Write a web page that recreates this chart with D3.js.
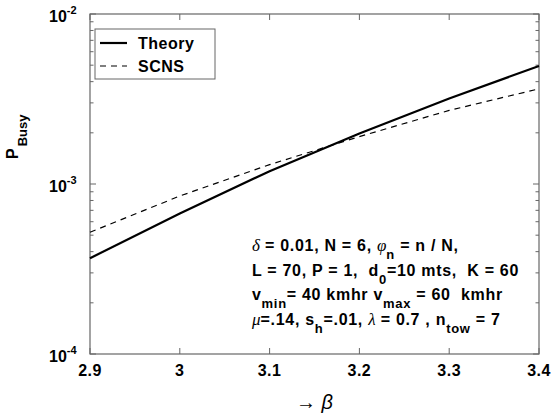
<!DOCTYPE html>
<html>
<head>
<meta charset="utf-8">
<script src="https://cdn.jsdelivr.net/npm/d3@7"></script>
<style>
  body { margin: 0; background: #fff; }
  svg { display: block; }
  text { font-family: "Liberation Sans", Arial, Helvetica, sans-serif; white-space: pre; }
</style>
</head>
<body>
<svg id="chart" width="552" height="416"></svg>
<script>
// values
const beta = [2.9, 3.0, 3.1, 3.2, 3.3, 3.4];
const theory = [3.66e-4, 6.7e-4, 1.19e-3, 1.98e-3, 3.18e-3, 4.95e-3];
const scns = [5.2e-4, 8.5e-4, 1.30e-3, 1.9e-3, 2.71e-3, 3.63e-3];
const xTicks = [2.9, 3.0, 3.1, 3.2, 3.3, 3.4];
const xTickLabels = ['2.9', '3', '3.1', '3.2', '3.3', '3.4'];
const yTicks = [1e-4, 1e-3, 1e-2];
const yTickExp = ['-4', '-3', '-2'];
const legendNames = ['Theory', 'SCNS'];

// annotation text, s = symbol (serif italic), b = subscript
const notes = [
  [['δ', 's'], [' = 0.01, N = 6, '], ['φ', 's'], ['n', 'b'], [' = n / N,']],
  [['L = 70, P = 1,  d'], ['0', 'b'], ['=10 mts,  K = 60']],
  [['v'], ['min', 'b'], ['= 40 kmhr v'], ['max', 'b'], [' = 60  kmhr']],
  [['μ', 's'], ['=.14, s'], ['h', 'b'], ['=.01, '], ['λ', 's'], [' = 0.7 , n'], ['tow', 'b'], [' = 7']]
];

const margin = {top: 14, right: 13, bottom: 62, left: 90};
const W = 552, H = 416;
const w = W - margin.left - margin.right;
const h = H - margin.top - margin.bottom;

const svg = d3.select('#chart');
const g = svg.append('g').attr('transform', `translate(${margin.left},${margin.top})`);

const x = d3.scaleLinear().domain([2.9, 3.4]).range([0, w]);
const y = d3.scaleLog().domain([1e-4, 1e-2]).range([h, 0]);

const axisColor = '#666';

// minor log ticks
const minor = [];
for (let d = 1e-4; d < 1e-2; d *= 10) {
  for (let k = 2; k <= 9; k++) minor.push(d * k);
}

// frame
g.append('rect')
  .attr('x', 0).attr('y', 0).attr('width', w).attr('height', h)
  .attr('fill', 'none').attr('stroke', axisColor).attr('stroke-width', 1.2);

// x ticks (inside, bottom and top)
const xt = g.append('g').attr('stroke', axisColor).attr('stroke-width', 1);
xt.selectAll('.xb').data(xTicks).join('line')
  .attr('x1', d => x(d)).attr('x2', d => x(d)).attr('y1', h).attr('y2', h - 6);
xt.selectAll('.xt').data(xTicks).join('line')
  .attr('class', 'xt')
  .attr('x1', d => x(d)).attr('x2', d => x(d)).attr('y1', 0).attr('y2', 6);

// y ticks (inside, left and right)
const yt = g.append('g').attr('stroke', axisColor).attr('stroke-width', 1);
[[0, 1], [w, -1]].forEach(([x0, dir]) => {
  yt.append('g').selectAll('line').data(yTicks).join('line')
    .attr('x1', x0).attr('x2', x0 + dir * 6).attr('y1', d => y(d)).attr('y2', d => y(d));
  yt.append('g').selectAll('line').data(minor).join('line')
    .attr('x1', x0).attr('x2', x0 + dir * 3.5).attr('y1', d => y(d)).attr('y2', d => y(d));
});

// x tick labels
g.selectAll('.xl').data(xTicks).join('text')
  .attr('class', 'xl')
  .attr('x', d => x(d)).attr('y', h + 22)
  .attr('text-anchor', 'middle')
  .attr('font-size', 16).attr('font-weight', 'bold').attr('letter-spacing', 0.5)
  .text((d, i) => xTickLabels[i]);

// y tick labels 10^n
const yl = g.selectAll('.yl').data(yTicks).join('text')
  .attr('class', 'yl')
  .attr('x', -41).attr('y', d => y(d) + 8)
  .attr('font-size', 16).attr('font-weight', 'bold');
yl.append('tspan').text('10');
yl.append('tspan').attr('dy', -8).attr('font-size', 11).text((d, i) => yTickExp[i]);

// lines
const line = d3.line().x((d, i) => x(beta[i])).y(d => y(d));
g.append('path').datum(theory)
  .attr('d', line).attr('fill', 'none')
  .attr('stroke', '#000').attr('stroke-width', 2.2);
g.append('path').datum(scns)
  .attr('d', line).attr('fill', 'none')
  .attr('stroke', '#000').attr('stroke-width', 1.2)
  .attr('stroke-dasharray', '6,5');

// legend
const lg = g.append('g').attr('transform', 'translate(5,15)');
lg.append('rect').attr('width', 120).attr('height', 50)
  .attr('fill', '#fff').attr('stroke', axisColor).attr('stroke-width', 1);
lg.selectAll('line').data(legendNames).join('line')
  .attr('x1', 5).attr('x2', 32)
  .attr('y1', (d, i) => 14 + i * 23).attr('y2', (d, i) => 14 + i * 23)
  .attr('stroke', '#000')
  .attr('stroke-width', (d, i) => i === 0 ? 2.2 : 1.2)
  .attr('stroke-dasharray', (d, i) => i === 0 ? null : '6,5');
lg.selectAll('text').data(legendNames).join('text')
  .attr('x', 43).attr('y', (d, i) => 19.5 + i * 23)
  .attr('font-size', 16).attr('font-weight', 'bold').attr('letter-spacing', 0.5)
  .text(d => d);

// annotation block
const nt = svg.append('g').attr('transform', 'translate(252,0)');
notes.forEach((parts, li) => {
  const t = nt.append('text')
    .attr('x', 0).attr('y', 251 + li * 24.5)
    .attr('font-size', 16).attr('font-weight', 'bold').attr('letter-spacing', 0.7);
  let down = false;
  parts.forEach(([s, kind]) => {
    const sp = t.append('tspan').text(s);
    if (kind === 's') {
      sp.attr('font-family', '"Liberation Serif", "Times New Roman", serif')
        .attr('font-style', 'italic').attr('font-weight', 'normal').attr('font-size', 17)
        .attr('letter-spacing', 0);
    }
    if (kind === 'b' && !down) { sp.attr('dy', 8).attr('font-size', 13); down = true; }
    else if (kind !== 'b' && down) { sp.attr('dy', -8); down = false; }
    else if (kind === 'b') sp.attr('font-size', 13);
  });
});

// axis titles
const yt2 = svg.append('text')
  .attr('transform', 'translate(18,159) rotate(-90)')
  .attr('font-size', 16).attr('font-weight', 'bold');
yt2.append('tspan').text('P');
yt2.append('tspan').attr('dy', 9).attr('dx', 2).attr('font-size', 13).text('Busy');

svg.append('text')
  .attr('x', margin.left + w / 2).attr('y', 409)
  .attr('text-anchor', 'middle')
  .attr('font-family', '"Liberation Serif", "Times New Roman", serif')
  .attr('font-size', 20)
  .html('→ <tspan font-style="italic">β</tspan>');
</script>
</body>
</html>
